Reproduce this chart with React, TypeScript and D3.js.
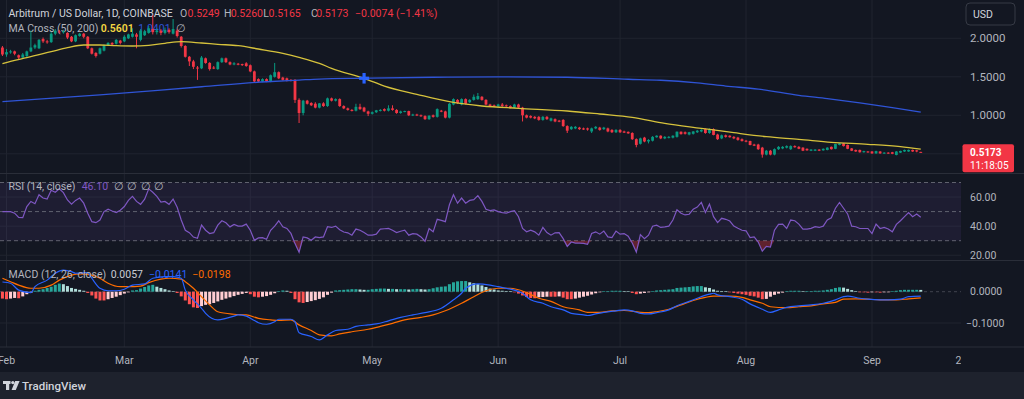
import React from "react";
import * as d3 from "d3";

// ---------- DATA ----------
const FEB1 = Date.UTC(2024, 1, 1);
const DAY_MS = 86400000;
const FIRST_DAY = -1; // first candle = Jan 31, 2024 (day offsets from Feb 1)

// daily candles [open, high, low, close], Jan 31 -> Sep 13 2024
const candles: [number, number, number, number][] = [
  [1.88, 1.90, 1.77, 1.79], [1.79, 1.86, 1.76, 1.82], [1.82, 1.85, 1.80, 1.83], [1.83, 1.84, 1.78, 1.80],
  [1.78, 1.79, 1.73, 1.75], [1.75, 1.81, 1.74, 1.79], [1.77, 1.84, 1.75, 1.83], [1.83, 2.10, 1.82, 1.88],
  [1.88, 1.93, 1.86, 1.91], [1.87, 1.99, 1.86, 1.98], [1.99, 2.01, 1.94, 1.96], [1.96, 1.98, 1.93, 1.95],
  [1.95, 2.08, 1.94, 2.06], [2.06, 2.12, 2.04, 2.10], [2.09, 2.11, 2.06, 2.08], [2.08, 2.11, 2.06, 2.09],
  [2.07, 2.08, 1.99, 2.01], [2.02, 2.03, 1.95, 1.96], [1.96, 2.05, 1.95, 2.04], [2.03, 2.07, 2.02, 2.06],
  [2.06, 2.07, 2.00, 2.02], [2.02, 2.03, 1.86, 1.87], [1.87, 1.88, 1.79, 1.80], [1.81, 1.82, 1.75, 1.77],
  [1.80, 1.88, 1.79, 1.87], [1.84, 1.92, 1.83, 1.91], [1.91, 1.95, 1.90, 1.94], [1.94, 1.95, 1.90, 1.92],
  [1.93, 1.99, 1.92, 1.98], [1.97, 1.98, 1.92, 1.94], [1.96, 2.04, 1.95, 2.02], [2.00, 2.06, 1.99, 2.05],
  [2.02, 2.13, 2.01, 2.06], [2.05, 2.07, 1.87, 2.02], [1.98, 2.12, 1.96, 2.10], [2.04, 2.11, 2.03, 2.09],
  [2.07, 2.16, 2.06, 2.13], [2.12, 2.30, 2.05, 2.08], [2.08, 2.13, 2.05, 2.10], [2.10, 2.12, 2.04, 2.07],
  [2.07, 2.14, 2.05, 2.11], [2.11, 2.13, 2.06, 2.08], [2.06, 2.25, 2.05, 2.12], [2.10, 2.12, 2.01, 2.03],
  [2.02, 2.03, 1.88, 1.90], [1.90, 1.91, 1.75, 1.76], [1.76, 1.77, 1.64, 1.70], [1.70, 1.72, 1.60, 1.63],
  [1.62, 1.64, 1.46, 1.61], [1.61, 1.77, 1.60, 1.75], [1.74, 1.75, 1.67, 1.68], [1.68, 1.69, 1.58, 1.60],
  [1.62, 1.64, 1.60, 1.61], [1.60, 1.70, 1.59, 1.69], [1.69, 1.75, 1.68, 1.74], [1.74, 1.75, 1.68, 1.69],
  [1.69, 1.70, 1.65, 1.66], [1.66, 1.69, 1.65, 1.675], [1.67, 1.68, 1.65, 1.665], [1.665, 1.67, 1.64, 1.655],
  [1.675, 1.69, 1.63, 1.64], [1.65, 1.66, 1.56, 1.57], [1.57, 1.58, 1.43, 1.44], [1.47, 1.48, 1.43, 1.44],
  [1.44, 1.48, 1.43, 1.47], [1.47, 1.48, 1.43, 1.44], [1.44, 1.53, 1.43, 1.52], [1.50, 1.68, 1.49, 1.56],
  [1.56, 1.57, 1.47, 1.48], [1.49, 1.50, 1.45, 1.46], [1.48, 1.49, 1.44, 1.45], [1.46, 1.47, 1.44, 1.45],
  [1.46, 1.47, 1.16, 1.20], [1.20, 1.22, 0.90, 1.03], [1.03, 1.20, 1.00, 1.19], [1.19, 1.20, 1.14, 1.15],
  [1.16, 1.17, 1.12, 1.13], [1.15, 1.17, 1.09, 1.10], [1.10, 1.16, 1.09, 1.155], [1.155, 1.17, 1.11, 1.12],
  [1.12, 1.23, 1.11, 1.22], [1.22, 1.23, 1.18, 1.19], [1.19, 1.22, 1.18, 1.21], [1.21, 1.22, 1.11, 1.12],
  [1.12, 1.13, 1.08, 1.09], [1.09, 1.10, 1.06, 1.07], [1.07, 1.08, 1.05, 1.06], [1.06, 1.15, 1.05, 1.11],
  [1.11, 1.15, 1.07, 1.08], [1.10, 1.11, 1.04, 1.05], [1.05, 1.06, 0.99, 1.02], [1.02, 1.05, 1.01, 1.04],
  [1.04, 1.07, 1.03, 1.065], [1.06, 1.08, 1.05, 1.07], [1.08, 1.09, 1.05, 1.06], [1.06, 1.13, 1.05, 1.09],
  [1.09, 1.13, 1.06, 1.07], [1.07, 1.08, 1.02, 1.03], [1.03, 1.06, 1.02, 1.05], [1.05, 1.06, 1.04, 1.055],
  [1.055, 1.06, 0.99, 1.00], [1.00, 1.02, 0.99, 1.01], [1.01, 1.02, 0.99, 1.00], [1.00, 1.01, 0.98, 0.99],
  [0.99, 1.00, 0.94, 0.95], [0.95, 1.00, 0.94, 0.995], [1.00, 1.01, 0.97, 0.98], [0.98, 1.09, 0.97, 1.08],
  [1.06, 1.07, 1.04, 1.05], [1.05, 1.06, 0.96, 0.97], [0.97, 1.16, 0.96, 1.15], [1.14, 1.22, 1.13, 1.21],
  [1.20, 1.21, 1.15, 1.16], [1.14, 1.22, 1.13, 1.21], [1.21, 1.22, 1.14, 1.15], [1.17, 1.21, 1.16, 1.20],
  [1.20, 1.27, 1.19, 1.24], [1.21, 1.29, 1.20, 1.25], [1.24, 1.25, 1.19, 1.20], [1.20, 1.21, 1.13, 1.14],
  [1.14, 1.15, 1.11, 1.12], [1.13, 1.14, 1.11, 1.12], [1.12, 1.15, 1.11, 1.14], [1.14, 1.16, 1.11, 1.12],
  [1.13, 1.14, 1.11, 1.12], [1.12, 1.13, 1.09, 1.10], [1.10, 1.15, 1.09, 1.14], [1.14, 1.15, 1.09, 1.10],
  [1.10, 1.11, 0.92, 1.00], [1.00, 1.01, 0.96, 0.97], [0.99, 1.00, 0.96, 0.97], [0.98, 0.99, 0.95, 0.96],
  [0.98, 0.99, 0.93, 0.94], [0.94, 0.99, 0.93, 0.98], [0.98, 0.99, 0.94, 0.95], [0.93, 0.97, 0.92, 0.96],
  [0.95, 0.96, 0.91, 0.92], [0.93, 0.94, 0.91, 0.92], [0.94, 0.95, 0.85, 0.86], [0.86, 0.87, 0.77, 0.80],
  [0.82, 0.86, 0.81, 0.85], [0.83, 0.86, 0.82, 0.85], [0.84, 0.85, 0.81, 0.82], [0.83, 0.84, 0.81, 0.815],
  [0.83, 0.84, 0.80, 0.815], [0.79, 0.84, 0.77, 0.83], [0.83, 0.86, 0.82, 0.85], [0.84, 0.85, 0.80, 0.81],
  [0.82, 0.85, 0.81, 0.84], [0.83, 0.84, 0.78, 0.79], [0.81, 0.82, 0.77, 0.78], [0.78, 0.82, 0.77, 0.81],
  [0.81, 0.82, 0.77, 0.78], [0.79, 0.80, 0.77, 0.775], [0.785, 0.79, 0.76, 0.765], [0.77, 0.78, 0.68, 0.69],
  [0.69, 0.70, 0.585, 0.615], [0.63, 0.71, 0.62, 0.70], [0.71, 0.72, 0.65, 0.66], [0.66, 0.69, 0.635, 0.68],
  [0.67, 0.73, 0.66, 0.72], [0.715, 0.74, 0.71, 0.735], [0.735, 0.74, 0.69, 0.70], [0.70, 0.73, 0.69, 0.72],
  [0.71, 0.73, 0.70, 0.72], [0.71, 0.74, 0.70, 0.735], [0.72, 0.79, 0.71, 0.787], [0.787, 0.79, 0.75, 0.755],
  [0.78, 0.79, 0.75, 0.76], [0.75, 0.785, 0.74, 0.78], [0.76, 0.795, 0.75, 0.79], [0.78, 0.81, 0.77, 0.80],
  [0.79, 0.82, 0.78, 0.81], [0.82, 0.83, 0.76, 0.77], [0.77, 0.83, 0.76, 0.82], [0.82, 0.83, 0.74, 0.745],
  [0.75, 0.76, 0.68, 0.69], [0.70, 0.75, 0.69, 0.74], [0.74, 0.75, 0.71, 0.72], [0.735, 0.74, 0.71, 0.715],
  [0.72, 0.73, 0.69, 0.70], [0.71, 0.72, 0.67, 0.68], [0.69, 0.70, 0.66, 0.665], [0.67, 0.68, 0.65, 0.658],
  [0.666, 0.67, 0.61, 0.614], [0.62, 0.63, 0.60, 0.605], [0.62, 0.63, 0.55, 0.56], [0.58, 0.59, 0.45, 0.49],
  [0.49, 0.55, 0.48, 0.54], [0.54, 0.55, 0.48, 0.49], [0.49, 0.57, 0.48, 0.56], [0.56, 0.60, 0.55, 0.59],
  [0.57, 0.60, 0.56, 0.59], [0.58, 0.61, 0.57, 0.60], [0.56, 0.61, 0.55, 0.60], [0.60, 0.61, 0.58, 0.585],
  [0.59, 0.60, 0.56, 0.565], [0.58, 0.585, 0.535, 0.54], [0.565, 0.57, 0.54, 0.545], [0.54, 0.56, 0.535, 0.555],
  [0.54, 0.56, 0.535, 0.555], [0.555, 0.56, 0.535, 0.54], [0.545, 0.57, 0.54, 0.565], [0.55, 0.585, 0.545, 0.58],
  [0.59, 0.595, 0.555, 0.56], [0.565, 0.63, 0.56, 0.627], [0.615, 0.64, 0.61, 0.635], [0.636, 0.64, 0.595, 0.60],
  [0.615, 0.62, 0.56, 0.565], [0.57, 0.575, 0.535, 0.54], [0.55, 0.555, 0.525, 0.53], [0.55, 0.555, 0.515, 0.52],
  [0.52, 0.54, 0.515, 0.535], [0.53, 0.535, 0.515, 0.52], [0.53, 0.535, 0.50, 0.505], [0.505, 0.54, 0.50, 0.535],
  [0.53, 0.535, 0.50, 0.505], [0.505, 0.52, 0.50, 0.515], [0.515, 0.52, 0.50, 0.506], [0.52, 0.525, 0.495, 0.50],
  [0.485, 0.535, 0.48, 0.53], [0.515, 0.54, 0.51, 0.537], [0.53, 0.555, 0.525, 0.55], [0.53, 0.555, 0.525, 0.55],
  [0.55, 0.555, 0.525, 0.53], [0.545, 0.55, 0.52, 0.53], [0.5249, 0.526, 0.5165, 0.5173],
];

// moving averages [day offset, value]
const ma50: [number, number][] = [
  [-1, 1.67], [1, 1.70], [5, 1.748], [11, 1.826], [15, 1.878], [19, 1.913], [23, 1.913], [27, 1.904],
  [31, 1.90], [35, 1.909], [39, 1.935], [43, 1.956], [48, 1.939], [52, 1.922], [57, 1.904], [62, 1.861],
  [68, 1.805], [72, 1.753], [77, 1.675], [80, 1.61], [88, 1.481], [93, 1.38], [101, 1.273], [109, 1.177],
  [117, 1.121], [126, 1.091], [138, 1.056], [146, 1.017], [154, 0.974], [162, 0.896], [171, 0.831],
  [179, 0.774], [187, 0.722], [195, 0.688], [203, 0.649], [212, 0.623], [220, 0.592], [225, 0.5601],
];
const ma200: [number, number][] = [
  [-1, 1.177], [23, 1.264], [48, 1.371], [64, 1.436], [72, 1.458], [77, 1.471], [88, 1.481], [105, 1.494],
  [121, 1.50], [138, 1.494], [153, 1.468], [161, 1.455], [170, 1.42], [177, 1.38], [185, 1.34], [195, 1.26],
  [202, 1.216], [210, 1.16], [218, 1.099], [225, 1.0401],
];
const crossPoint: [number, number] = [88, 1.481];

// RSI(14) [day offset, value]
const rsi: [number, number][] = [
  [-1, 50], [1, 50], [2, 48.9], [3, 46], [4, 45.8], [5, 53.5], [6, 57], [7, 55.4], [8, 61.6], [9, 59.3],
  [10, 58.6], [11, 64.7], [12, 63.3], [13, 65.6], [14, 63], [15, 58], [16, 55.1], [17, 57.7], [18, 59.3],
  [19, 55.8], [20, 48.9], [21, 43.1], [22, 42.4], [23, 44.2], [24, 50], [25, 51.6], [26, 50.4], [27, 49.3],
  [28, 51], [29, 53.5], [30, 57.7], [31, 60.5], [32, 57], [33, 55], [34, 58.5], [35, 65.6], [36, 63.3],
  [37, 60.5], [38, 56.5], [39, 57], [40, 55], [41, 58.6], [42, 53], [43, 44.2], [44, 37.2], [45, 35.5],
  [46, 32.5], [47, 31.7], [48, 40.7], [49, 37.2], [50, 34.9], [51, 35.5], [52, 40.7], [53, 43.7], [54, 42.3],
  [55, 39.5], [56, 41.2], [57, 40], [58, 40], [59, 41.4], [60, 37.2], [61, 30.3], [62, 31.9], [63, 32.1],
  [64, 31], [65, 37.2], [66, 40], [67, 43.7], [68, 39.6], [69, 38.4], [70, 35], [71, 28], [72, 22.1],
  [73, 32.6], [74, 31.9], [75, 30.3], [76, 32.6], [77, 32.1], [78, 32.6], [79, 39.6], [80, 39.1], [81, 40],
  [82, 37.5], [83, 36], [84, 35.4], [85, 33.8], [86, 38], [87, 37.2], [88, 35.6], [89, 33.8], [90, 33.8],
  [91, 34.5], [92, 38], [93, 38.2], [94, 38.4], [95, 37.2], [96, 35.6], [97, 36.5], [98, 37.2], [99, 33.8],
  [100, 34.9], [101, 34.5], [102, 32.6], [103, 29.6], [104, 38.4], [105, 36.1], [106, 44.7], [107, 44],
  [108, 43.1], [109, 54.7], [110, 61.6], [111, 55.8], [112, 59.3], [113, 55.8], [114, 57.7], [115, 58.2],
  [116, 61], [117, 57], [118, 51.6], [119, 50.7], [120, 51.2], [121, 50], [122, 49.3], [123, 48.9], [124, 50],
  [125, 50.7], [126, 46.5], [127, 38.4], [128, 36.1], [129, 37.2], [130, 36.1], [131, 33.8], [132, 39.1],
  [133, 35.6], [134, 33.8], [135, 35.4], [136, 35.6], [137, 31.4], [138, 26.1], [139, 29.1], [140, 28.4],
  [141, 28.4], [142, 28.2], [143, 27.5], [144, 34.9], [145, 36.1], [146, 34.5], [147, 36.6], [148, 32.6],
  [149, 32.1], [150, 36.6], [151, 34.5], [152, 34.9], [153, 33.1], [154, 28.4], [155, 22.2], [156, 34.2],
  [157, 31.4], [158, 33.8], [159, 40], [160, 40.7], [161, 39.1], [162, 39.5], [163, 40], [164, 44.2],
  [165, 51.2], [166, 48.9], [167, 47.7], [168, 48.2], [169, 51.6], [170, 53.1], [171, 56.3], [172, 49.3],
  [173, 55.1], [174, 46.5], [175, 42.4], [176, 45.4], [177, 44.7], [178, 43.5], [179, 40], [180, 38.5],
  [181, 37.2], [182, 36.8], [183, 32.1], [184, 32.6], [185, 29.1], [186, 22.8], [187, 26.1], [188, 25.6],
  [189, 37.2], [190, 41.2], [191, 41.4], [192, 38.4], [193, 44.2], [194, 43.7], [195, 41.4], [196, 37.9],
  [197, 37.9], [198, 38.5], [199, 39.6], [200, 39.1], [201, 40], [202, 44.2], [203, 45.8], [204, 52.3],
  [205, 56.3], [206, 52.3], [207, 48.4], [208, 40], [209, 39.6], [210, 38.4], [211, 38.4], [212, 38.4],
  [213, 34.9], [214, 41.4], [215, 38.4], [216, 39.1], [217, 38], [218, 36.1], [219, 41.2], [220, 43.7],
  [221, 46.5], [222, 49.3], [223, 46.5], [224, 48.4], [225, 46.1],
];

// MACD(12,26) line and signal [day offset, value]
const macdLine: [number, number][] = [
  [-1, 0.031], [1, 0.027], [3, 0.005], [6, -0.003], [7, 0.016], [10, 0.037], [12, 0.059], [14, 0.069],
  [16, 0.064], [17, 0.059], [20, 0.061], [21, 0.043], [23, 0.011], [25, 0.003], [27, 0.003], [29, 0.008],
  [31, 0.021], [34, 0.025], [36, 0.043], [39, 0.048], [41, 0.048], [43, 0.043], [44, 0.005], [46, -0.026],
  [48, -0.053], [49, -0.069], [52, -0.090], [54, -0.085], [56, -0.078], [57, -0.074], [59, -0.078],
  [61, -0.092], [62, -0.099], [64, -0.104], [66, -0.096], [67, -0.088], [70, -0.088], [71, -0.096],
  [72, -0.131], [75, -0.143], [77, -0.154], [79, -0.138], [81, -0.124], [84, -0.120], [86, -0.111],
  [89, -0.106], [91, -0.103], [94, -0.093], [97, -0.082], [100, -0.074], [103, -0.067], [107, -0.053],
  [110, -0.026], [112, -0.005], [113, 0.011], [116, 0.025], [119, 0.021], [121, 0.016], [124, 0.008],
  [127, -0.005], [129, -0.026], [132, -0.037], [134, -0.048], [137, -0.058], [139, -0.069], [142, -0.074],
  [143, -0.076], [145, -0.071], [147, -0.066], [150, -0.061], [152, -0.058], [154, -0.061], [156, -0.069],
  [158, -0.071], [160, -0.067], [163, -0.058], [165, -0.045], [168, -0.031], [170, -0.021], [173, -0.008],
  [174, -0.005], [175, -0.010], [178, -0.016], [181, -0.024], [183, -0.039], [186, -0.056], [188, -0.066],
  [190, -0.058], [192, -0.050], [195, -0.045], [198, -0.042], [201, -0.037], [204, -0.026], [206, -0.016],
  [207, -0.014], [210, -0.021], [212, -0.024], [215, -0.026], [217, -0.026], [220, -0.024], [222, -0.016],
  [225, -0.0141],
];
const signalLine: [number, number][] = [
  [-1, 0.043], [1, 0.032], [3, 0.021], [6, 0.011], [8, 0.011], [11, 0.021], [13, 0.037], [16, 0.053],
  [18, 0.057], [21, 0.053], [23, 0.043], [25, 0.027], [28, 0.016], [30, 0.016], [33, 0.018], [35, 0.029],
  [38, 0.040], [40, 0.043], [43, 0.040], [44, 0.032], [46, 0.011], [48, -0.016], [50, -0.042], [52, -0.064],
  [56, -0.072], [59, -0.074], [62, -0.085], [65, -0.090], [67, -0.092], [70, -0.090], [72, -0.106],
  [75, -0.124], [77, -0.138], [80, -0.141], [82, -0.135], [85, -0.128], [89, -0.120], [92, -0.111],
  [95, -0.101], [98, -0.090], [102, -0.082], [105, -0.074], [108, -0.061], [112, -0.037], [115, -0.016],
  [118, 0.003], [121, 0.011], [124, 0.011], [128, -0.003], [131, -0.021], [134, -0.031], [137, -0.048],
  [141, -0.058], [143, -0.066], [146, -0.066], [149, -0.061], [152, -0.060], [156, -0.066], [158, -0.067],
  [160, -0.064], [163, -0.056], [166, -0.042], [169, -0.028], [172, -0.018], [174, -0.014], [178, -0.014],
  [181, -0.018], [183, -0.026], [186, -0.037], [188, -0.048], [192, -0.051], [195, -0.048], [198, -0.045],
  [201, -0.039], [204, -0.034], [206, -0.024], [209, -0.023], [212, -0.024], [215, -0.026], [219, -0.026],
  [222, -0.023], [225, -0.0198],
];
// MACD histogram, one value per candle (Jan 31 -> Sep 13)
const histogram: number[] = [
  -0.022, -0.024, -0.022, -0.020, -0.021, -0.015,
  -0.008, -0.004, 0.003, 0.006, 0.008, 0.012, 0.016, 0.022, 0.026, 0.024, 0.018, 0.012, 0.009, 0.006, 0.003,
  -0.004, -0.012, -0.022, -0.028, -0.028, -0.024, -0.020, -0.016, -0.011, -0.006, -0.002,
  0.004, 0.005, 0.010, 0.015, 0.020, 0.022, 0.016, 0.012, 0.008, 0.004, 0.002,
  -0.004, -0.015, -0.028, -0.040, -0.050, -0.052, -0.046, -0.042, -0.040, -0.036, -0.031, -0.026, -0.022,
  -0.018, -0.014, -0.010, -0.007, -0.004,
  -0.008, -0.016, -0.018, -0.016, -0.014, -0.010, -0.005, 0.002, 0.004, 0.003,
  -0.004, -0.024, -0.034, -0.036, -0.033, -0.030, -0.027, -0.023, -0.018, -0.010, -0.003,
  0.004, 0.005, 0.006, 0.007, 0.008, 0.008, 0.007, 0.006, 0.006, 0.008,
  0.009, 0.010, 0.010, 0.009, 0.009, 0.008, 0.008, 0.008, 0.007, 0.008,
  0.009, 0.008, 0.007, 0.008, 0.011, 0.014, 0.016, 0.017,
  0.024, 0.030, 0.033, 0.034, 0.034, 0.030, 0.027, 0.024, 0.020, 0.015, 0.010, 0.007, 0.004, 0.003, 0.002,
  0.001, -0.002,
  -0.006, -0.012, -0.017, -0.020, -0.021, -0.018, -0.017, -0.016, -0.016, -0.016, -0.015, -0.019, -0.024,
  -0.024, -0.022, -0.019, -0.016, -0.013, -0.009, -0.005,
  -0.002, 0.001, 0.002, 0.003, 0.003, 0.003, 0.002, 0.001, -0.004, -0.008, -0.006, -0.004, -0.002,
  0.002, 0.004, 0.005, 0.006, 0.007, 0.008, 0.012, 0.013, 0.014, 0.015, 0.017, 0.018, 0.018, 0.014, 0.012,
  0.007, 0.003, 0.002, 0.001,
  -0.001, -0.004, -0.006, -0.008, -0.010, -0.013, -0.015, -0.019, -0.024, -0.023, -0.016, -0.010, -0.006, -0.003,
  0.001, 0.003, 0.003, 0.003, 0.002, 0.002, 0.002, 0.003, 0.003, 0.004, 0.006, 0.008, 0.012, 0.014, 0.013,
  0.009, 0.005, 0.002,
  -0.001, -0.002, -0.003, -0.002, -0.002, -0.003, -0.002, -0.001,
  0.001, 0.003, 0.005, 0.006, 0.006, 0.006, 0.006, 0.0057,
];

const priceTicks = [0.5, 1.0, 1.5, 2.0];
const rsiTicks = [20, 40, 60];
const rsiLevels = [70, 50, 30];
const macdTicks = [0, -0.1];
const timeTicks = ["2024-02-01", "2024-03-01", "2024-04-01", "2024-05-01", "2024-06-01", "2024-07-01", "2024-08-01", "2024-09-01", "2024-09-23"];

const titleText = "Arbitrum / US Dollar, 1D, COINBASE";
const ohlcLabels = ["O", "H", "L", "C"];
const ohlcValues = ["0.5249", "0.5260", "0.5165", "0.5173"];
const changeText = "−0.0074 (−1.41%)";
const maLegend = { name: "MA Cross (50, 200)", fast: "0.5601", slow: "1.0401" };
const rsiLegend = { name: "RSI (14, close)", value: "46.10" };
const macdLegend = { name: "MACD (12, 26, close)", hist: "0.0057", macd: "−0.0141", signal: "−0.0198" };
const lastPrice = "0.5173";
const countdown = "11:18:05";

// ---------- STYLE ----------
const BG = "#131722";
const FOOT = "#1e222d";
const GRID = "#20242f";
const SEP = "#2a2e39";
const TXT = "#b2b5be";
const UP = "#089981";
const DOWN = "#f23645";
const FONT = "Roboto, 'Noto Sans', sans-serif";
const PLOT_R = 961;
const MAIN_B = 173.5;
const RSI_T = 173.5, RSI_B = 260.5;
const MACD_T = 260.5, MACD_B = 347;
const AXIS_B = 372;

export default function App() {
  const dt = (d: number) => new Date(FEB1 + d * DAY_MS);
  const x = d3.scaleUtc().domain([dt(0), dt(213)]).range([6.5, 872]);
  const xd = (d: number) => x(dt(d));
  const yP = d3.scaleLinear().domain([0.5, 2.0]).range([153.8, 38.3]);
  const yR = d3.scaleLinear().domain([30, 70]).range([240.7, 182.5]);
  const yM = d3.scaleLinear().domain([-0.1, 0]).range([323, 291.7]);

  const maPath = d3.line<[number, number]>().x((p) => xd(p[0])).y((p) => yP(p[1])).curve(d3.curveMonotoneX);
  const rsiPath = d3.line<[number, number]>().x((p) => xd(p[0])).y((p) => yR(p[1]));
  const rsiLow = d3.area<[number, number]>().x((p) => xd(p[0])).y0(yR(30)).y1((p) => yR(Math.min(p[1], 30)));
  const macdPath = d3.line<[number, number]>().x((p) => xd(p[0])).y((p) => yM(p[1])).curve(d3.curveMonotoneX);

  const tickDates = timeTicks.map((s) => new Date(s + "T00:00:00Z"));
  const fmtTick = (d: Date) => (d.getUTCDate() === 1 ? d3.utcFormat("%b")(d) : d3.utcFormat("%d")(d));

  const bodyW = 2.8;
  const histW = 3;
  const lastY = yP(+lastPrice);
  const boxTop = lastY - 8.3;
  const boxH = 28;

  return (
    <svg width={1024} height={399} style={{ position: "absolute", left: 0, top: 0, display: "block" }} fontFamily={FONT}>
      <defs>
        <clipPath id="cMain"><rect x={0} y={0} width={PLOT_R} height={MAIN_B} /></clipPath>
        <clipPath id="cRsi"><rect x={0} y={RSI_T} width={PLOT_R} height={RSI_B - RSI_T} /></clipPath>
        <clipPath id="cMacd"><rect x={0} y={MACD_T} width={PLOT_R} height={MACD_B - MACD_T} /></clipPath>
        <clipPath id="cAxis"><rect x={0} y={MACD_B} width={PLOT_R} height={AXIS_B - MACD_B} /></clipPath>
      </defs>
      <rect x={0} y={0} width={1024} height={399} fill={BG} />
      <rect x={0} y={AXIS_B} width={1024} height={399 - AXIS_B} fill={FOOT} />

      {/* grid */}
      <g clipPath="url(#cMain)">
        {tickDates.map((d, i) => <line key={"vg" + i} x1={x(d)} x2={x(d)} y1={0} y2={MAIN_B} stroke={GRID} />)}
      </g>
      <g clipPath="url(#cRsi)">
        {tickDates.map((d, i) => <line key={"vr" + i} x1={x(d)} x2={x(d)} y1={RSI_T} y2={RSI_B} stroke={GRID} />)}
      </g>
      <g clipPath="url(#cMacd)">
        {tickDates.map((d, i) => <line key={"vm" + i} x1={x(d)} x2={x(d)} y1={MACD_T} y2={MACD_B} stroke={GRID} />)}
      </g>
      {priceTicks.map((p) => (
        <line key={"hp" + p} x1={0} x2={PLOT_R} y1={yP(p)} y2={yP(p)} stroke={GRID} />
      ))}
      {rsiTicks.map((v) => (
        <line key={"hr" + v} x1={0} x2={PLOT_R} y1={yR(v)} y2={yR(v)} stroke={GRID} />
      ))}
      <line x1={0} x2={PLOT_R} y1={yM(-0.1)} y2={yM(-0.1)} stroke={GRID} />

      {/* pane separators */}
      <line x1={0} x2={1024} y1={MAIN_B} y2={MAIN_B} stroke={SEP} />
      <line x1={0} x2={1024} y1={RSI_B} y2={RSI_B} stroke={SEP} />
      <line x1={0} x2={1024} y1={MACD_B} y2={MACD_B} stroke={SEP} />

      {/* main legend (drawn below candles) */}
      <g fontSize={10.5}>
        <text x={8.5} y={16.5} fill="#d1d4dc">{titleText}</text>
        {ohlcLabels.map((l, i) => {
          const lx = [180, 224, 263.3, 311][i];
          const vx = [187.5, 230.7, 268.5, 316.2][i];
          return (
            <g key={l}>
              <text x={lx} y={16.5} fill={TXT}>{l}</text>
              <text x={vx} y={16.5} fill={DOWN}>{ohlcValues[i]}</text>
            </g>
          );
        })}
        <text x={355} y={16.5} fill={DOWN}>{changeText}</text>
        <text x={8.5} y={31.5} fill={TXT}>{maLegend.name}</text>
        <text x={100.7} y={31.5} fill="#f5d742" fontWeight={600}>{maLegend.fast}</text>
        <text x={138.3} y={31.5} fill="#2f54d6">{maLegend.slow}</text>
        <text x={176} y={31.5} fill={TXT}>∅</text>
      </g>

      {/* candles */}
      <g clipPath="url(#cMain)">
        {candles.map((c, i) => {
          const d = i + FIRST_DAY;
          const cx = xd(d);
          const [o, h, l, cl] = c;
          const col = cl >= o ? UP : DOWN;
          const top = yP(Math.max(o, cl));
          const bh = Math.max(1, Math.abs(yP(o) - yP(cl)));
          return (
            <g key={"c" + i}>
              <line x1={cx} x2={cx} y1={yP(h)} y2={yP(l)} stroke={col} strokeWidth={1} />
              <rect x={cx - bodyW / 2} y={top} width={bodyW} height={bh} fill={col} />
            </g>
          );
        })}
        <path d={maPath(ma200) || ""} fill="none" stroke="#2f54d6" strokeWidth={1.3} />
        <path d={maPath(ma50) || ""} fill="none" stroke="#d6c23c" strokeWidth={1.3} />
        <g transform={`translate(${xd(crossPoint[0])},${yP(crossPoint[1])})`}>
          <rect x={-5} y={-1.6} width={10} height={3.2} fill="#2962ff" />
          <rect x={-1.6} y={-5.3} width={3.2} height={10.6} fill="#2962ff" />
        </g>
      </g>

      {/* RSI pane */}
      <rect x={0} y={yR(70)} width={PLOT_R} height={yR(30) - yR(70)} fill="rgba(126,87,194,0.1)" />
      {rsiLevels.map((v) => (
        <line key={"rl" + v} x1={0} x2={PLOT_R} y1={yR(v)} y2={yR(v)} stroke="#787b86" strokeOpacity={0.75} strokeDasharray="4 3" />
      ))}
      <g clipPath="url(#cRsi)">
        <path d={rsiLow(rsi) || ""} fill="rgba(242,54,69,0.35)" />
        <path d={rsiPath(rsi) || ""} fill="none" stroke="#7e57c2" strokeWidth={1.2} />
      </g>
      <g fontSize={10.5}>
        <text x={8.5} y={190} fill={TXT}>{rsiLegend.name}</text>
        <text x={81.7} y={190} fill="#7e57c2">{rsiLegend.value}</text>
        {[114, 127.3, 141, 154.3].map((tx, i) => (
          <text key={"rn" + i} x={tx} y={190} fill={TXT}>∅</text>
        ))}
      </g>

      {/* MACD pane */}
      <line x1={0} x2={PLOT_R} y1={yM(0)} y2={yM(0)} stroke="#787b86" strokeOpacity={0.45} strokeDasharray="3 3" />
      <g clipPath="url(#cMacd)">
        {histogram.map((v, i) => {
          const prev = i > 0 ? histogram[i - 1] : v;
          const col = v >= 0 ? (v >= prev ? "#26a69a" : "#b2dfdb") : v <= prev ? "#ff5252" : "#ffcdd2";
          const cx = xd(i + FIRST_DAY);
          const y0 = yM(0);
          const y1 = yM(v);
          return <rect key={"h" + i} x={cx - histW / 2} y={Math.min(y0, y1)} width={histW} height={Math.max(0.6, Math.abs(y1 - y0))} fill={col} />;
        })}
        <path d={macdPath(signalLine) || ""} fill="none" stroke="#ff6d00" strokeWidth={1.2} />
        <path d={macdPath(macdLine) || ""} fill="none" stroke="#2962ff" strokeWidth={1.2} />
      </g>
      <g fontSize={10.5}>
        <text x={8.5} y={277.5} fill={TXT}>{macdLegend.name}</text>
        <text x={110.7} y={277.5} fill="#c9ccd3">{macdLegend.hist}</text>
        <text x={149} y={277.5} fill="#2962ff">{macdLegend.macd}</text>
        <text x={192.3} y={277.5} fill="#ff6d00">{macdLegend.signal}</text>
      </g>

      {/* price axis (labels hidden where the last-price box covers them) */}
      <g fontSize={11.5} fill={TXT}>
        {priceTicks
          .filter((p) => Math.abs(yP(p) - (boxTop + boxH / 2)) > boxH / 2 + 6)
          .map((p) => (
            <text key={"pt" + p} x={970} y={yP(p)} dominantBaseline="central">{p.toFixed(4)}</text>
          ))}
      </g>
      <g fontSize={10.5} fill={TXT}>
        {rsiTicks.map((v) => (
          <text key={"rt" + v} x={970} y={yR(v)} dominantBaseline="central">{v.toFixed(2)}</text>
        ))}
        {macdTicks.map((v) => (
          <text key={"mt" + v} x={v < 0 ? 966 : 970} y={yM(v)} dominantBaseline="central">{v < 0 ? "−" + Math.abs(v).toFixed(4) : v.toFixed(4)}</text>
        ))}
      </g>
      <rect x={962.5} y={boxTop} width={51.5} height={boxH} rx={2} fill={DOWN} />
      <text x={970} y={lastY} dominantBaseline="central" fontSize={10} fontWeight={700} fill="#ffffff">{lastPrice}</text>
      <text x={970} y={lastY + 12.6} dominantBaseline="central" fontSize={10} fill="#ffffff">{countdown}</text>

      {/* USD button */}
      <rect x={966} y={3} width={49} height={22} rx={4} fill={BG} stroke="#363a45" />
      <text x={973} y={14} dominantBaseline="central" fontSize={10.5} fill="#d1d4dc">USD</text>

      {/* time axis */}
      <g clipPath="url(#cAxis)" fontSize={10.5} fill={TXT}>
        {tickDates.map((d, i) => (
          <text key={"tt" + i} x={x(d)} y={360} textAnchor="middle" dominantBaseline="central">{fmtTick(d)}</text>
        ))}
      </g>

      {/* footer logo */}
      <g fill="#d1d4dc">
        <rect x={3} y={381} width={7.5} height={3} />
        <rect x={6} y={381} width={3.2} height={9} />
        <circle cx={12.8} cy={382.6} r={1.6} />
        <path d="M15.2,381 L19.6,381 L15.8,390 L11.6,390 Z" />
        <text x={22} y={386} dominantBaseline="central" fontSize={11.5} fontWeight={500}>TradingView</text>
      </g>
    </svg>
  );
}
